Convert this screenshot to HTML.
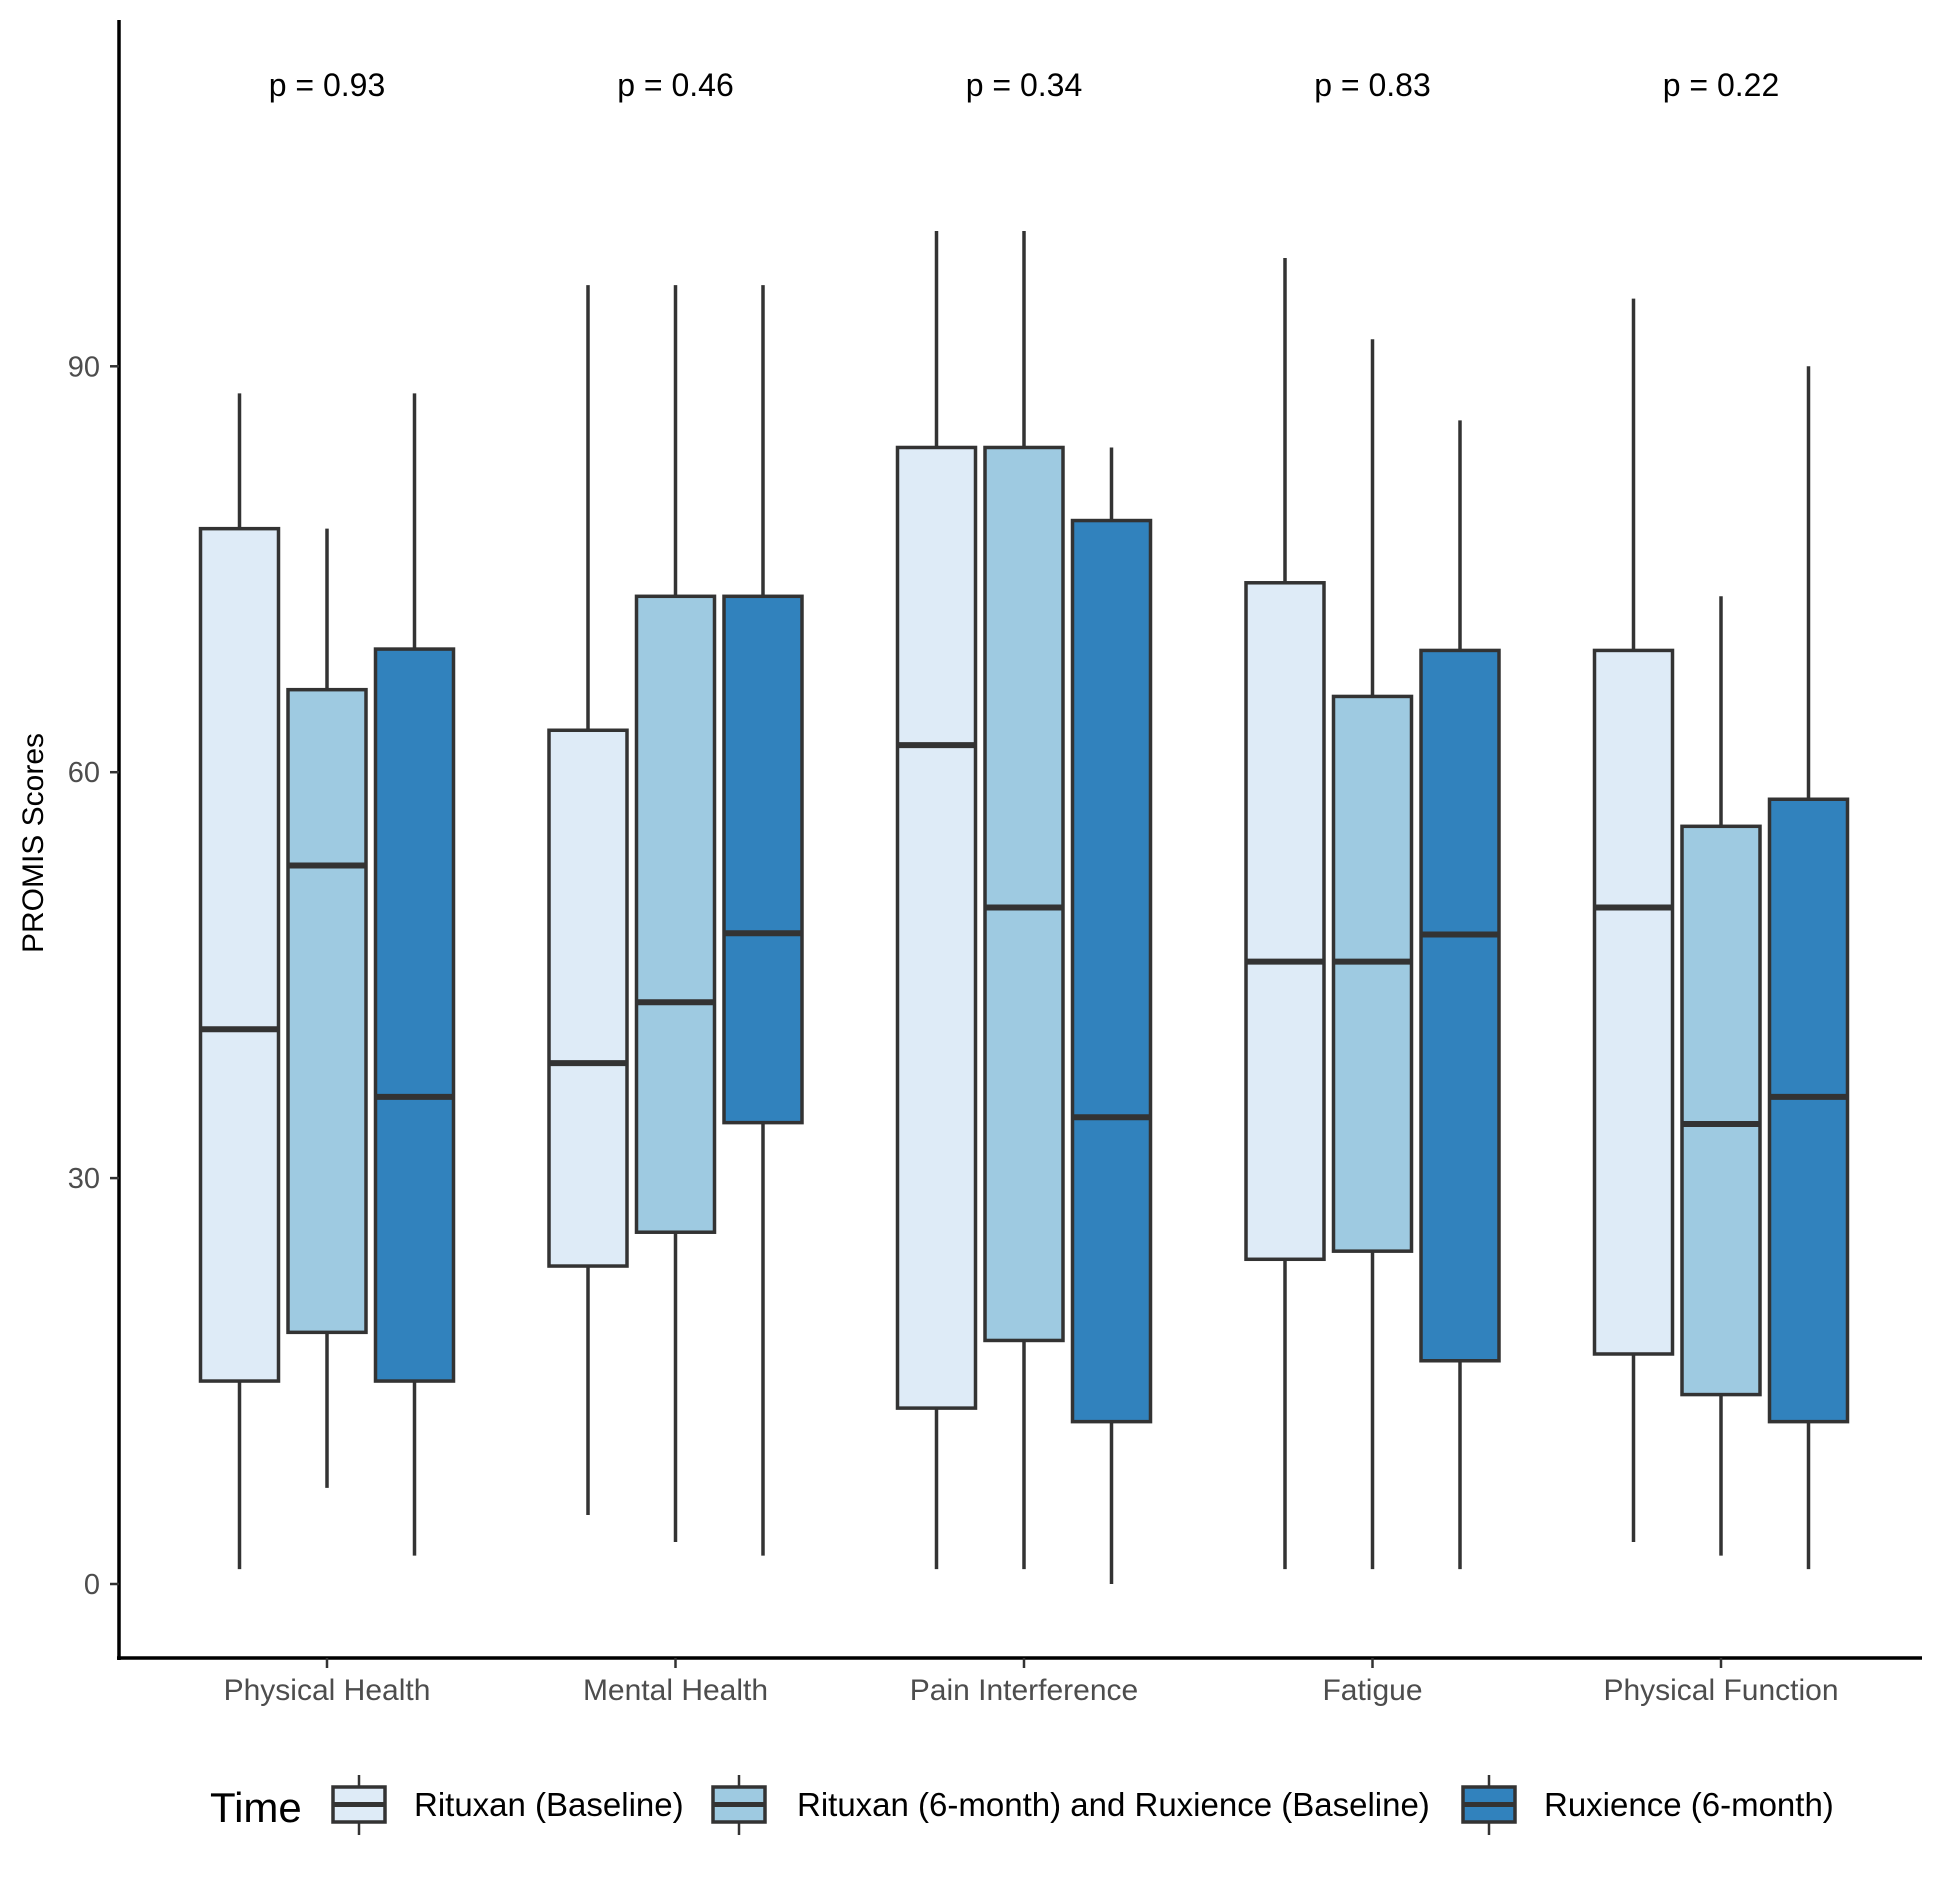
<!DOCTYPE html>
<html><head><meta charset="utf-8"><style>
html,body{margin:0;padding:0;background:#fff;}
svg{display:block;font-family:"Liberation Sans",sans-serif;}
</style></head><body>
<svg id="chart" width="1958" height="1883" viewBox="0 0 1958 1883" xmlns="http://www.w3.org/2000/svg">
<g id="plot"></g>
</svg>
<script>
const categories = ["Physical Health","Mental Health","Pain Interference","Fatigue","Physical Function"];
const pValues = ["p = 0.93","p = 0.46","p = 0.34","p = 0.83","p = 0.22"];
const seriesNames = ["Rituxan (Baseline)","Rituxan (6-month) and Ruxience (Baseline)","Ruxience (6-month)"];
// each: [min, q1, median, q3, max] per category
const rituxanBaseline = [[1.1,15,41,78,88],[5.1,23.5,38.5,63.1,96],[1.1,13,62,84,100],[1.1,24,46,74,98],[3.1,17,50,69,95]];
const rituxan6mRuxBase = [[7.1,18.6,53.1,66.1,78],[3.1,26,43,73,96],[1.1,18,50,84,100],[1.1,24.6,46,65.6,92],[2.1,14,34,56,73]];
const ruxience6m = [[2.1,15,36,69.1,88],[2.1,34.1,48.1,73,96],[0,12,34.5,78.6,84],[1.1,16.5,48,69,86],[1.1,12,36,58,90]];
const yTicks = [0,30,60,90];

const seriesData=[rituxanBaseline,rituxan6mRuxBase,ruxience6m];
const colors=["#deebf7","#9ecae1","#3182bd"];
const NS="http://www.w3.org/2000/svg";
const g=document.getElementById('plot');
const y0=1584, yPer=13.53;
const yScale=v=>y0-v*yPer;
const xScale=i=>327+i*348.5;
const off=87.5, hw=39;
function el(tag,attrs,text){const e=document.createElementNS(NS,tag);for(const k in attrs)e.setAttribute(k,attrs[k]);if(text!=null)e.textContent=text;g.appendChild(e);return e;}
const stroke="#333333";
let a=el('line',{x1:119,y1:20,x2:119,y2:1660,stroke:'#000','stroke-width':3.5});


a=el('line',{x1:117,y1:1658,x2:1922,y2:1658,stroke:'#000','stroke-width':3.5});


yTicks.forEach(t=>{
  const y=yScale(t);
  let tk=el('line',{x1:110,y1:y,x2:119,y2:y,stroke:stroke,'stroke-width':2.5});
  
  
  let tl=el('text',{x:100,y:y+10,'text-anchor':'end','font-size':29,fill:'#4d4d4d'},String(t));
  
  
});
let yt=el('text',{x:0,y:0,'text-anchor':'middle','font-size':30,fill:'#000',transform:'translate(43,843) rotate(-90)'},'PROMIS Scores');


categories.forEach((c,i)=>{
  const x=xScale(i);
  let tk=el('line',{x1:x,y1:1658,x2:x,y2:1668,stroke:stroke,'stroke-width':2.5});
  
  
  let tl=el('text',{x:x,y:1700,'text-anchor':'middle','font-size':30,fill:'#4d4d4d'},c);
  
  
  let p=el('text',{x:x,y:96,'text-anchor':'middle','font-size':32,fill:'#000'},pValues[i]);
  
  
  seriesData.forEach((s,j)=>{
    const d=s[i], cx=x+(j-1)*off;
    let w=el('line',{x1:cx,y1:yScale(d[4]),x2:cx,y2:yScale(d[0]),stroke:stroke,'stroke-width':3.5});
    
    
    let r=el('rect',{x:cx-hw,y:yScale(d[3]),width:hw*2,height:yScale(d[1])-yScale(d[3]),fill:colors[j],stroke:stroke,'stroke-width':3.5});
    
    
    let m=el('line',{x1:cx-hw,y1:yScale(d[2]),x2:cx+hw,y2:yScale(d[2]),stroke:stroke,'stroke-width':6});
    
    
  });
});
let lt=el('text',{x:210,y:1822,'font-size':42,fill:'#000'},'Time');


const keyX=[333,713,1463], txtX=[414,797,1544];
seriesNames.forEach((n,j)=>{
  const kx=keyX[j];
  let kw=el('line',{x1:kx+26,y1:1775,x2:kx+26,y2:1835,stroke:stroke,'stroke-width':2.5});
  
  
  let kr=el('rect',{x:kx,y:1787,width:52,height:35,fill:colors[j],stroke:stroke,'stroke-width':3.5});
  
  
  let km=el('line',{x1:kx,y1:1804.5,x2:kx+52,y2:1804.5,stroke:stroke,'stroke-width':5});
  
  
  let t=el('text',{x:txtX[j],y:1816,'font-size':33,fill:'#000'},n);
  
  
});
</script>
</body></html>
